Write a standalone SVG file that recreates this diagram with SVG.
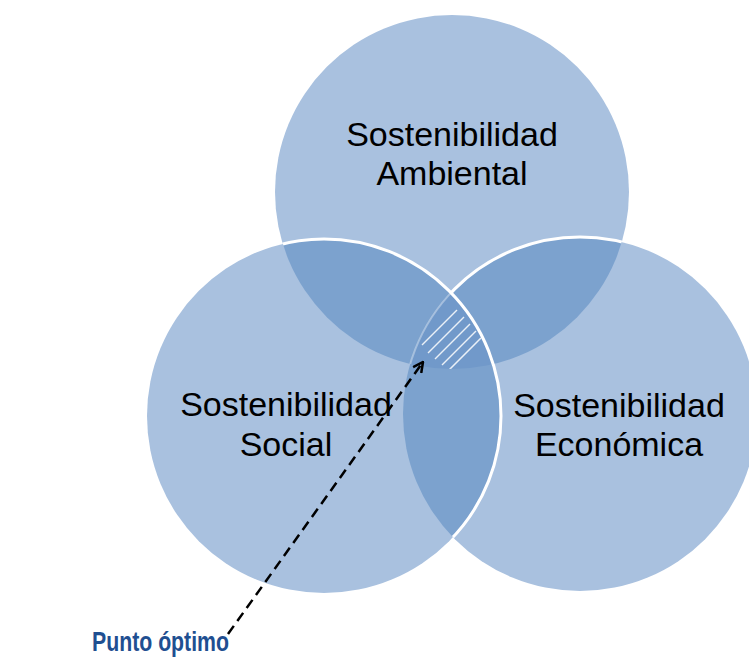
<svg xmlns="http://www.w3.org/2000/svg" width="749" height="657" viewBox="0 0 749 657">
  <style>
    .base { fill: #A9C1DF; }
    .pair { fill: #7CA2CE; }
    .triple { fill: #7199CA; }
    .edge { fill: none; stroke: #FFFFFF; stroke-width: 3; }
    .hatch { stroke: #FFFFFF; stroke-width: 1.5; stroke-opacity: 0.85; }
    .label { font-family: "Liberation Sans", Arial, sans-serif; font-size: 34px; fill: #000000; text-anchor: middle; }
    .callout { font-family: "Liberation Sans", Arial, sans-serif; font-size: 28px; font-weight: bold; fill: #1F4F91; }
    .arrow { fill: none; stroke: #000000; stroke-width: 2.5; stroke-dasharray: 10 6; }
  </style>
  <defs>
    <clipPath id="cT"><circle cx="452" cy="192" r="177"/></clipPath>
    <clipPath id="cL"><circle cx="324" cy="416" r="177"/></clipPath>
    <clipPath id="cR"><circle cx="580" cy="414" r="177"/></clipPath>
    <clipPath id="cTR"><circle cx="452" cy="192" r="177"/><circle cx="580" cy="414" r="177"/></clipPath>
    <mask id="mTnotL" maskUnits="userSpaceOnUse" x="0" y="0" width="749" height="657">
      <circle cx="452" cy="192" r="177" fill="#FFFFFF"/>
      <circle cx="324" cy="416" r="177" fill="#000000"/>
    </mask>
    <marker id="open" viewBox="0 0 12 12" refX="11" refY="6" markerWidth="12" markerHeight="12" markerUnits="userSpaceOnUse" orient="auto">
      <path d="M1,1 L11,6 L1,11" fill="none" stroke="#000000" stroke-width="2.5"/>
    </marker>
  </defs>

  <g id="ambiental">
    <circle class="base" cx="452" cy="192" r="177"/>
  </g>
  <g id="social">
    <circle class="base" cx="324" cy="416" r="177"/>
  </g>
  <g id="economica">
    <circle class="base" cx="580" cy="414" r="177"/>
  </g>

  <g id="overlaps">
    <g clip-path="url(#cT)">
      <circle class="pair" cx="324" cy="416" r="177"/>
      <circle class="pair" cx="580" cy="414" r="177"/>
    </g>
    <g clip-path="url(#cL)">
      <circle class="pair" cx="580" cy="414" r="177"/>
    </g>
    <g id="punto-optimo-zona" clip-path="url(#cT)">
      <g clip-path="url(#cL)">
        <circle class="triple" cx="580" cy="414" r="177"/>
        <g clip-path="url(#cR)">
          <line class="hatch" x1="422" y1="345" x2="457" y2="310"/>
          <line class="hatch" x1="428" y1="353" x2="464" y2="317"/>
          <line class="hatch" x1="435" y1="359" x2="470" y2="324"/>
          <line class="hatch" x1="442" y1="365" x2="476" y2="331"/>
          <line class="hatch" x1="448" y1="371" x2="481" y2="338"/>
        </g>
        <circle cx="580" cy="414" r="177" fill="none" stroke="#FFFFFF" stroke-width="2" stroke-opacity="0.35"/>
      </g>
    </g>
  </g>

  <g id="edges">
    <circle class="edge" cx="580" cy="414" r="177" mask="url(#mTnotL)"/>
    <circle class="edge" cx="324" cy="416" r="177" clip-path="url(#cTR)"/>
  </g>

  <g id="labels">
    <text class="label" x="452" y="146">Sostenibilidad</text>
    <text class="label" x="452" y="185">Ambiental</text>
    <text class="label" x="286" y="416">Sostenibilidad</text>
    <text class="label" x="286" y="456">Social</text>
    <text class="label" x="619" y="417">Sostenibilidad</text>
    <text class="label" x="619" y="456">Económica</text>
  </g>

  <g id="connectors">
    <line class="arrow" x1="228" y1="634" x2="423" y2="362" marker-end="url(#open)"/>
  </g>

  <g id="callout">
    <text class="callout" x="92" y="651" textLength="137" lengthAdjust="spacingAndGlyphs">Punto óptimo</text>
  </g>
</svg>
